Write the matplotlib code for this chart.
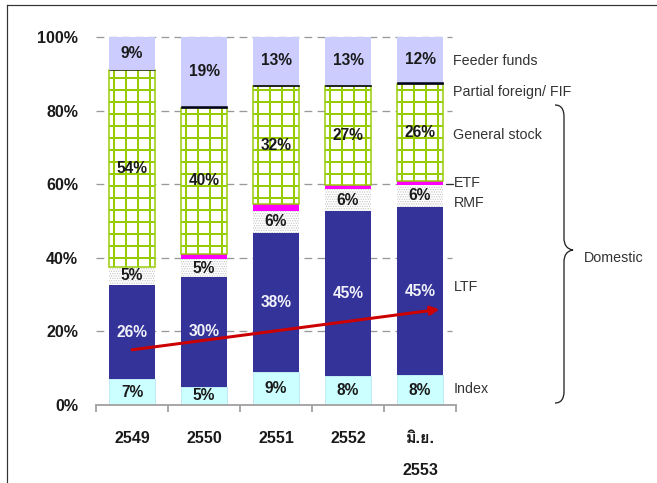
import matplotlib
matplotlib.use('Agg')
import matplotlib.pyplot as plt
from matplotlib import font_manager as fm
from matplotlib.ft2font import FT2Font
from matplotlib.path import Path
from matplotlib.patches import PathPatch
from matplotlib.lines import Line2D

# ---------------- data ----------------
categories = ['2549', '2550', '2551', '2552', 'มิ.ย.\n2553']
index_vals = [7, 5, 9, 8, 8]
ltf_vals = [26, 30, 38, 45, 45]
rmf_vals = [5, 5, 6, 6, 6]
etf_vals = [0, 1.4, 1.9, 1.2, 1.1]
general_vals = [54, 40, 32, 27, 26]
partial_vals = [0, 0.4, 0.5, 0.5, 0.5]
feeder_vals = [9, 19, 13, 13, 12]
y_ticks = [0, 20, 40, 60, 80, 100]
series_names = ['Index', 'LTF', 'RMF', 'ETF', 'General stock',
                'Partial foreign/ FIF', 'Feeder funds']
trend_start = (0, 15)
trend_end = (4.27, 26)


def find_thai():
    for f in fm.fontManager.ttflist:
        try:
            if ord('ม') in FT2Font(f.fname).get_charmap():
                return f.name
        except Exception:
            pass
    return None


thai = find_thai()
fams = ['Liberation Sans'] + ([thai] if thai else []) + ['DejaVu Sans']
plt.rcParams['font.family'] = fams
plt.rcParams['hatch.linewidth'] = 2.0

DPI = 72
fig = plt.figure(figsize=(657 / DPI, 483 / DPI), dpi=DPI)
fig.patch.set_facecolor('white')
W, H = 657, 483
ax = fig.add_axes([96 / W, (H - 405) / H, 360 / W, 368 / H])

values = [index_vals, ltf_vals, rmf_vals, etf_vals, general_vals,
          partial_vals, feeder_vals]
totals = [sum(col) for col in zip(*values)]
x = list(range(len(categories)))

styles = [
    dict(facecolor='#CCFFFF', edgecolor='#A8DDEE', linewidth=0.6),
    dict(facecolor='#333399', edgecolor='#333399', linewidth=0.0),
    dict(facecolor='white', edgecolor='#C4C4C4', linewidth=0.0, hatch='.....'),
    dict(facecolor='#FF00FF', edgecolor='#FF00FF', linewidth=0.0),
    dict(facecolor='white', edgecolor='#99CC00', linewidth=1.5, hatch='+'),
    dict(facecolor='#000022', edgecolor='#000022', linewidth=0.6),
    dict(facecolor='#CCCCFF', edgecolor='#CCCCFF', linewidth=0.0),
]
label_colors = ['#1a1a1a', '#F2F2FA', '#1a1a1a', None, '#1a1a1a', None, '#1a1a1a']

bottom = [0.0] * len(x)
for name, vals, st, lc in zip(series_names, values, styles, label_colors):
    pct = [v / t * 100 for v, t in zip(vals, totals)]
    if name == 'RMF':
        with plt.rc_context({'hatch.linewidth': 0.8}):
            cont = ax.bar(x, pct, bottom=bottom, width=0.65, zorder=2, label=name, **st)
    else:
        cont = ax.bar(x, pct, bottom=bottom, width=0.65, zorder=2, label=name, **st)
    if lc is not None:
        labels = [f'{v:g}%' for v in vals]
        ax.bar_label(cont, labels=labels, label_type='center', color=lc,
                     fontsize=15.5, fontweight='bold', zorder=4)
    bottom = [b + p for b, p in zip(bottom, pct)]

# trend arrow
ax.annotate('', xy=trend_end, xytext=trend_start,
            arrowprops=dict(arrowstyle='-|>', color='#CC0000', lw=3,
                            mutation_scale=18, shrinkA=0, shrinkB=0),
            zorder=5)

# axes styling
ax.set_xlim(-0.5, 4.5)
ax.set_ylim(0, 100)
ax.hlines(y_ticks[1:], -0.5, 4.45, colors='#999999', linestyles=(0, (6, 4)),
          linewidth=1.3, zorder=1, clip_on=False)
for s in ['left', 'right', 'top']:
    ax.spines[s].set_visible(False)
ax.spines['bottom'].set_color('#A0A0A0')
ax.spines['bottom'].set_linewidth(1.8)
ax.set_yticks(y_ticks)
ax.set_yticklabels([f'{t}%' for t in y_ticks], fontsize=16, fontweight='bold',
                   color='#1a1a1a')
ax.tick_params(axis='y', length=0, pad=18)
ax.set_xticks(x)
ax.set_xticklabels(categories, fontsize=16, fontweight='bold', color='#1a1a1a')
for lbl in ax.get_xticklabels():
    lbl.set_linespacing(2.4)
ax.tick_params(axis='x', which='major', length=0, pad=26)
ax.set_xticks([i - 0.5 for i in range(len(categories) + 1)], minor=True)
ax.tick_params(axis='x', which='minor', length=7, width=1.8, color='#A0A0A0',
               direction='out')

# right-side labels
side_labels = [('Feeder funds', 93.6), ('Partial foreign/ FIF', 85.1),
               ('General stock', 73.4), ('ETF', 60.2), ('RMF', 55.0),
               ('LTF', 32.1), ('Index', 4.3)]
trans = ax.get_yaxis_transform()
for txt, yy in side_labels:
    ax.text(0.993, yy, txt, transform=trans, ha='left', va='center',
            fontsize=14.3, color='#333333', clip_on=False)

# overlay in pixel coordinates for brace, frame and leader
ov = fig.add_axes([0, 0, 1, 1], zorder=10)
ov.set_xlim(0, W)
ov.set_ylim(H, 0)
ov.axis('off')
verts = [(555, 105), (561, 105), (564, 109), (564, 117),
         (564, 238),
         (564, 245), (567, 249), (573, 250),
         (567, 251), (564, 255), (564, 262),
         (564, 391),
         (564, 399), (561, 403), (555, 403)]
codes = [Path.MOVETO, Path.CURVE4, Path.CURVE4, Path.CURVE4,
         Path.LINETO,
         Path.CURVE4, Path.CURVE4, Path.CURVE4,
         Path.CURVE4, Path.CURVE4, Path.CURVE4,
         Path.LINETO,
         Path.CURVE4, Path.CURVE4, Path.CURVE4]
ov.add_patch(PathPatch(Path(verts, codes), facecolor='none', edgecolor='#222222', lw=1.3))
ov.text(584, 258, 'Domestic', fontsize=14.3, color='#333333', ha='left', va='center')
ov.add_line(Line2D([446, 453], [183.5, 183.5], color='#333333', lw=1.2))
ov.add_line(Line2D([7, W], [5, 5], color='#333333', lw=1.2))
ov.add_line(Line2D([7, 7], [5, H], color='#333333', lw=1.2))

fig.savefig('out.png', dpi=DPI)
